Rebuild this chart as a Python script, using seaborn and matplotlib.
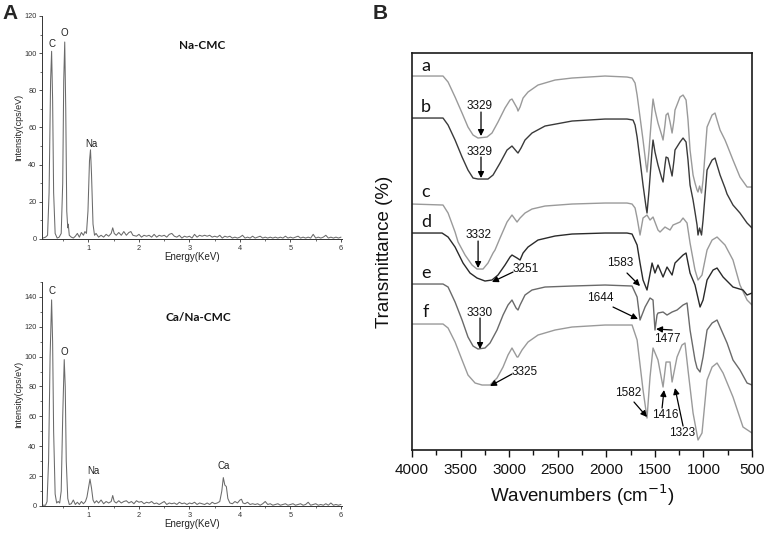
import matplotlib
matplotlib.use('Agg')
import matplotlib.pyplot as plt
import seaborn as sns
import pandas as pd
from matplotlib.ticker import MultipleLocator

# ---------------- EDS spectra (panel A) ----------------
eds_na_energy = [0.10, 0.15, 0.19, 0.22, 0.25, 0.27, 0.29, 0.31, 0.34, 0.38, 0.42, 0.46, 0.49, 0.51,
                 0.53, 0.55, 0.57, 0.59, 0.60, 0.62, 0.66, 0.70, 0.74, 0.78, 0.82, 0.86, 0.90, 0.93,
                 0.96, 0.99, 1.02, 1.04, 1.06, 1.09, 1.12, 1.15, 1.20, 1.25, 1.30, 1.35, 1.40, 1.45,
                 1.48, 1.51, 1.55, 1.60, 1.65, 1.70, 1.75, 1.80, 1.84, 1.88, 1.95, 2.00, 2.05, 2.10,
                 2.15, 2.20, 2.25, 2.30, 2.35, 2.40, 2.45, 2.50, 2.55, 2.60, 2.65, 2.70, 2.75, 2.80,
                 2.85, 2.90, 2.95, 3.00, 3.05, 3.10, 3.15, 3.20, 3.25, 3.30, 3.35, 3.40, 3.45, 3.50,
                 3.55, 3.60, 3.65, 3.70, 3.75, 3.80, 3.85, 3.90, 3.95, 4.00, 4.05, 4.10, 4.15, 4.20,
                 4.25, 4.30, 4.35, 4.40, 4.45, 4.50, 4.55, 4.60, 4.65, 4.70, 4.75, 4.80, 4.85, 4.90,
                 4.95, 5.00, 5.05, 5.10, 5.15, 5.20, 5.25, 5.30, 5.35, 5.40, 5.45, 5.50, 5.55, 5.60,
                 5.65, 5.70, 5.75, 5.80, 5.85, 5.90, 5.95, 6.00]
eds_na_counts = [0.5, 1, 2, 25, 85, 101, 75, 25, 3, 0.5, 1, 3, 30, 85,
                 106, 70, 15, 6, 8, 2, 1, 0.5, 1.5, 3, 1, 3.5, 2, 4,
                 3, 15, 42, 48, 35, 8, 2, 3, 1, 2, 1, 2.5, 1.5, 3,
                 6, 3, 2, 3.5, 2, 4, 2, 3.5, 4, 2, 1.5, 2.5, 1, 2,
                 1.5, 2, 1, 2.5, 1, 2, 1.5, 2, 1, 2.5, 3, 1.5, 1, 2,
                 0.5, 1.5, 1, 1.5, 0.5, 2.5, 1, 2, 1.5, 2, 1.5, 2, 1, 1.5,
                 1, 2, 0.5, 1.5, 1, 1.5, 0.5, 1, 0.5, 1, 2, 0.5, 1, 0.5,
                 1.5, 0.5, 1, 1.5, 0.5, 1, 0.5, 1, 0.5, 1, 0.5, 1, 0.5, 1.5,
                 0.5, 1, 0.5, 1, 1.5, 0.5, 1, 0.5, 1, 0.5, 2.5, 0.5, 1, 0.5,
                 1, 2, 0.5, 1, 0.5, 1, 0.5, 1]

eds_ca_energy = [0.10, 0.15, 0.18, 0.21, 0.24, 0.27, 0.29, 0.31, 0.34, 0.37, 0.40, 0.43, 0.46, 0.49,
                 0.52, 0.54, 0.56, 0.59, 0.62, 0.66, 0.70, 0.74, 0.78, 0.82, 0.86, 0.90, 0.94, 0.97,
                 1.00, 1.03, 1.06, 1.09, 1.12, 1.16, 1.20, 1.25, 1.30, 1.35, 1.40, 1.45, 1.48, 1.51,
                 1.55, 1.60, 1.65, 1.70, 1.75, 1.80, 1.85, 1.90, 1.95, 2.00, 2.05, 2.10, 2.15, 2.20,
                 2.25, 2.30, 2.35, 2.40, 2.45, 2.50, 2.55, 2.60, 2.65, 2.70, 2.75, 2.80, 2.85, 2.90,
                 2.95, 3.00, 3.05, 3.10, 3.15, 3.20, 3.25, 3.30, 3.35, 3.40, 3.45, 3.50, 3.55, 3.60,
                 3.64, 3.67, 3.70, 3.73, 3.76, 3.80, 3.85, 3.90, 3.95, 4.00, 4.03, 4.06, 4.10, 4.15,
                 4.20, 4.25, 4.30, 4.35, 4.40, 4.45, 4.50, 4.55, 4.60, 4.65, 4.70, 4.75, 4.80, 4.85,
                 4.90, 4.95, 5.00, 5.05, 5.10, 5.15, 5.20, 5.25, 5.30, 5.35, 5.40, 5.45, 5.50, 5.55,
                 5.60, 5.65, 5.70, 5.75, 5.80, 5.85, 5.90, 5.95, 6.00]
eds_ca_counts = [0.5, 0.5, 3, 30, 100, 138, 110, 50, 8, 2, 3, 2, 10, 60,
                 98, 80, 30, 5, 1, 1.5, 4, 1, 2.5, 1, 3, 1.5, 3, 6,
                 12, 18, 12, 4, 2, 3.5, 2, 4, 1.5, 3, 2, 3, 7, 3,
                 2, 3.5, 2, 3, 3.5, 2, 3, 1.5, 3.5, 2.5, 3, 1.5, 2.5, 2,
                 3, 1.5, 2, 1, 2, 3, 1, 2, 1.5, 2, 1, 2.5, 1.5, 2,
                 1, 2, 1.5, 2.5, 1, 2, 1.5, 1, 2, 1, 2.5, 1.5, 2, 3,
                 10, 19, 14, 13, 5, 2, 1.5, 3, 2, 4, 4.5, 2, 1.5, 2.5,
                 1, 1.5, 1, 1.5, 0.5, 1.5, 3, 1, 1.5, 0.5, 1, 1.5, 0.5, 1,
                 1.5, 0.5, 1, 1.5, 0.5, 1, 1.5, 0.5, 1, 2.5, 0.5, 1, 1.5, 0.5,
                 1, 0.5, 1.5, 0.5, 2, 0.5, 1, 0.5, 1]

# ---------------- FTIR spectra (panel B), offset transmittance ----------------
wn_a = [4000, 3681, 3629, 3557, 3485, 3424, 3372, 3321, 3228, 3177, 3115, 3043, 2991, 2971, 2919,
        2909, 2888, 2857, 2806, 2703, 2528, 2353, 2013, 1787, 1735, 1704, 1683, 1653, 1622, 1591,
        1581, 1560, 1529, 1519, 1499, 1468, 1430, 1416, 1396, 1385, 1365, 1344, 1323, 1303, 1293,
        1241, 1210, 1179, 1159, 1138, 1107, 1087, 1066, 1056, 1040, 1020, 1004, 963, 911, 881,
        860, 829, 778, 757, 696, 624, 551, 500]
t_a = [374, 374, 368, 353, 337, 323, 315, 312, 313, 317, 328, 342, 350, 351, 342,
       339, 343, 352, 358, 365, 370, 372, 374, 373, 372, 367, 355, 333, 310, 285,
       278, 300, 340, 351, 340, 327, 315, 310, 325, 335, 337, 328, 317, 330, 340,
       353, 355, 350, 330, 300, 275, 267, 260, 258, 264, 257, 270, 323, 335, 337,
       330, 320, 310, 305, 290, 273, 263, 263]

wn_b = [4000, 3681, 3629, 3557, 3485, 3424, 3372, 3321, 3218, 3166, 3094, 3022, 2971, 2919, 2909,
        2878, 2837, 2765, 2631, 2353, 2013, 1787, 1725, 1704, 1683, 1653, 1622, 1591, 1581, 1560,
        1529, 1519, 1499, 1468, 1430, 1416, 1396, 1385, 1365, 1344, 1323, 1303, 1293, 1241, 1210,
        1179, 1159, 1138, 1107, 1087, 1066, 1056, 1040, 1020, 1004, 963, 911, 881, 860, 829,
        778, 757, 696, 624, 551, 500]
t_b = [332, 332, 325, 310, 293, 280, 272, 271, 271, 275, 287, 300, 304, 298, 297,
       302, 310, 317, 324, 329, 331, 331, 330, 325, 313, 290, 265, 243, 237, 260,
       300, 310, 298, 285, 272, 268, 285, 293, 292, 283, 274, 290, 300, 308, 312,
       308, 290, 265, 250, 238, 225, 215, 222, 215, 230, 280, 290, 292, 285, 275,
       262, 256, 245, 237, 227, 222]

wn_c = [4000, 3681, 3629, 3557, 3526, 3454, 3382, 3331, 3269, 3218, 3166, 3146, 3094, 3022, 2971,
        2919, 2888, 2837, 2765, 2631, 2353, 2013, 1787, 1735, 1704, 1683, 1653, 1622, 1581, 1550,
        1519, 1468, 1447, 1396, 1344, 1313, 1241, 1210, 1169, 1138, 1087, 1056, 1015, 963, 911,
        860, 778, 696, 624, 551, 500]
t_c = [246, 245, 237, 218, 208, 195, 185, 181, 181, 187, 197, 200, 212, 228, 235,
       228, 232, 237, 241, 244, 246, 247, 247, 246, 242, 232, 215, 232, 235, 230,
       233, 220, 218, 223, 220, 225, 228, 232, 227, 207, 180, 170, 175, 200, 210,
       213, 205, 190, 165, 150, 145]

wn_d = [4000, 3691, 3629, 3557, 3475, 3403, 3331, 3249, 3177, 3115, 3043, 2991, 2971, 2919, 2888,
        2857, 2806, 2703, 2528, 2353, 2013, 1787, 1735, 1683, 1653, 1622, 1581, 1529, 1499, 1468,
        1416, 1375, 1323, 1293, 1210, 1179, 1138, 1087, 1035, 1004, 963, 901, 860, 798, 696,
        593, 551, 500]
t_d = [217, 217, 213, 203, 187, 177, 172, 169, 170, 175, 185, 193, 195, 192, 190,
       197, 203, 210, 214, 216, 217, 217, 216, 205, 187, 170, 160, 187, 177, 185,
       173, 183, 175, 187, 195, 197, 177, 165, 143, 150, 170, 180, 182, 173, 163,
       160, 155, 157]

wn_e = [4000, 3681, 3629, 3557, 3485, 3424, 3372, 3321, 3249, 3197, 3125, 3063, 3012, 2971, 2929,
        2909, 2888, 2837, 2765, 2631, 2353, 2013, 1735, 1683, 1653, 1601, 1550, 1519, 1499, 1478,
        1468, 1416, 1375, 1323, 1272, 1210, 1169, 1138, 1087, 1066, 1035, 1004, 963, 911, 860,
        829, 757, 696, 624, 551, 500]
t_e = [166, 166, 163, 148, 130, 113, 104, 101, 102, 107, 120, 135, 145, 150, 142,
       140, 145, 155, 160, 163, 164, 165, 164, 153, 130, 143, 152, 150, 120, 135,
       137, 138, 135, 138, 140, 145, 147, 120, 90, 82, 78, 93, 120, 127, 130,
       123, 107, 90, 80, 67, 65]

wn_f = [4000, 3681, 3629, 3557, 3485, 3424, 3351, 3279, 3197, 3125, 3063, 3012, 2971, 2919, 2909,
        2868, 2806, 2703, 2528, 2353, 2013, 1735, 1683, 1622, 1581, 1550, 1519, 1468, 1416, 1385,
        1344, 1323, 1272, 1221, 1190, 1159, 1107, 1056, 1015, 963, 911, 860, 798, 696, 593,
        500]
t_f = [126, 126, 122, 108, 90, 75, 67, 65, 65, 72, 83, 95, 102, 93, 93,
       100, 108, 115, 120, 123, 125, 125, 110, 60, 32, 73, 102, 90, 63, 88,
       88, 68, 93, 105, 107, 80, 37, 10, 17, 70, 83, 87, 77, 53, 23,
       17]

ftir_labels = ['a', 'b', 'c', 'd', 'e', 'f']
ftir_label_y = [384, 343, 258, 228, 177, 138]
ftir_colors = ['#9a9a9a', '#3a3a3a', '#9a9a9a', '#2a2a2a', '#6a6a6a', '#9a9a9a']

# peak annotations: text, text centre, arrow tail, arrow tip
peak_text = ['3329', '3329', '3332', '3251', '3330', '3325', '1583', '1644', '1477', '1582', '1416', '1323']
peak_text_xy = [(3300, 344), (3300, 298), (3320, 215), (2965, 181), (3300, 137), (2975, 78),
                (1859, 187), (2064, 152), (1375, 111), (1776, 57), (1396, 35), (1221, 17)]
peak_tail = [(3290, 338), (3290, 293), (3320, 209), (2960, 178), (3300, 132), (2971, 76),
             (1787, 177), (1931, 143), (1323, 120), (1715, 48), (1426, 42), (1210, 24)]
peak_tip = [(3290, 314), (3290, 272), (3320, 182), (3177, 168), (3300, 101), (3197, 64),
            (1653, 164), (1674, 131), (1488, 121), (1581, 33), (1406, 60), (1293, 62)]
peak_ha = ['center', 'center', 'center', 'left', 'center', 'left',
           'center', 'center', 'center', 'center', 'center', 'center']

# ---------------- style ----------------
sns.set_theme(style='ticks')
plt.rcParams['font.family'] = ['Liberation Sans', 'DejaVu Sans']

fig = plt.figure(figsize=(7.68, 5.33), dpi=100)

eds_color = '#6a6a6a'
axis_gray = '#333333'


def style_eds(ax, ymax, ymajor):
    ax.set_xlim(0.08, 6.02)
    ax.set_ylim(0, ymax)
    ax.xaxis.set_major_locator(MultipleLocator(1))
    ax.xaxis.set_minor_locator(MultipleLocator(0.5))
    ax.yaxis.set_major_locator(MultipleLocator(ymajor))
    ax.yaxis.set_minor_locator(MultipleLocator(ymajor / 2))
    for side in ['top', 'right']:
        ax.spines[side].set_visible(False)
    for side in ['left', 'bottom']:
        ax.spines[side].set_color(axis_gray)
        ax.spines[side].set_linewidth(0.7)
    ax.tick_params(which='major', direction='out', length=2.5, width=0.6, pad=1.5,
                   labelsize=5.3, colors=axis_gray)
    ax.tick_params(which='minor', direction='out', length=1.3, width=0.5, colors=axis_gray)
    ax.set_xlabel('Energy(KeV)', fontsize=7, labelpad=0, color='#222222')
    ax.set_ylabel('Intensity(cps/eV)', fontsize=6.5, labelpad=1, color='#222222')
    ax.set_facecolor('white')


# Panel A top: Na-CMC
ax1 = fig.add_axes([0.0547, 0.5516, 0.3906, 0.4184])
sns.lineplot(x=eds_na_energy, y=eds_na_counts, ax=ax1, color=eds_color, linewidth=0.75,
             errorbar=None)
style_eds(ax1, 120, 20)
ax1.text(0.27, 105, 'C', fontsize=7, ha='center', va='center', color='#222222')
ax1.text(0.53, 111, 'O', fontsize=7, ha='center', va='center', color='#222222')
ax1.text(1.06, 51, 'Na', fontsize=7, ha='center', va='center', color='#222222')
ax1.text(3.25, 104, 'Na-CMC', fontsize=8.5, ha='center', va='center', fontweight='bold',
         family=['Lato', 'DejaVu Sans'], color='#111111')

# Panel A bottom: Ca/Na-CMC
ax2 = fig.add_axes([0.0547, 0.0507, 0.3906, 0.4203])
sns.lineplot(x=eds_ca_energy, y=eds_ca_counts, ax=ax2, color=eds_color, linewidth=0.75,
             errorbar=None)
style_eds(ax2, 150, 20)
ax2.text(0.28, 144, 'C', fontsize=7, ha='center', va='center', color='#222222')
ax2.text(0.52, 103, 'O', fontsize=7, ha='center', va='center', color='#222222')
ax2.text(1.09, 23.5, 'Na', fontsize=7, ha='center', va='center', color='#222222')
ax2.text(3.68, 27, 'Ca', fontsize=7, ha='center', va='center', color='#222222')
ax2.text(3.18, 126.5, 'Ca/Na-CMC', fontsize=8.5, ha='center', va='center', fontweight='bold',
         family=['Lato', 'DejaVu Sans'], color='#111111')

# Panel B: FTIR
ax3 = fig.add_axes([0.5365, 0.1557, 0.4427, 0.7448])
ftir_sets = [(wn_a, t_a), (wn_b, t_b), (wn_c, t_c), (wn_d, t_d), (wn_e, t_e), (wn_f, t_f)]
for (wn, tr), lab, col, ly in zip(ftir_sets, ftir_labels, ftir_colors, ftir_label_y):
    df = pd.DataFrame({'wavenumber': wn, 'transmittance': tr})
    sns.lineplot(data=df, x='wavenumber', y='transmittance', ax=ax3, color=col,
                 linewidth=1.0, errorbar=None)
    ax3.text(3856, ly, lab, fontsize=13, ha='center', va='center',
             family=['Lato', 'DejaVu Sans'], color='#111111')

for txt, txy, tail, tip, ha in zip(peak_text, peak_text_xy, peak_tail, peak_tip, peak_ha):
    ax3.annotate('', xy=tip, xytext=tail,
                 arrowprops=dict(arrowstyle='-|>', color='black', lw=0.9,
                                 mutation_scale=9, shrinkA=0, shrinkB=0))
    ax3.text(txy[0], txy[1], txt, fontsize=8.5, ha=ha, va='center', color='#111111')

ax3.set_xlim(4000, 500)
ax3.set_ylim(0, 397)
ax3.xaxis.set_major_locator(MultipleLocator(500))
ax3.xaxis.set_minor_locator(MultipleLocator(250))
ax3.set_yticks([])
for side in ['top', 'right', 'left', 'bottom']:
    ax3.spines[side].set_color('#1a1a1a')
    ax3.spines[side].set_linewidth(1.2)
ax3.tick_params(axis='x', which='major', direction='out', length=5, width=1.0,
                labelsize=11, pad=4, colors='#111111')
ax3.tick_params(axis='x', which='minor', direction='out', length=3.5, width=1.0, colors='#111111')
ax3.set_xlabel('Wavenumbers (cm$^{-1}$)', fontsize=13.5, labelpad=4, color='#111111')
ax3.set_ylabel('Transmittance (%)', fontsize=13.5, labelpad=14, color='#111111')
ax3.set_facecolor('white')

# Panel letters
fig.text(0.013, 0.975, 'A', fontsize=15, fontweight='bold', ha='center', va='center')
fig.text(0.495, 0.975, 'B', fontsize=15, fontweight='bold', ha='center', va='center')

fig.savefig('out.png', dpi=100, facecolor='white')
